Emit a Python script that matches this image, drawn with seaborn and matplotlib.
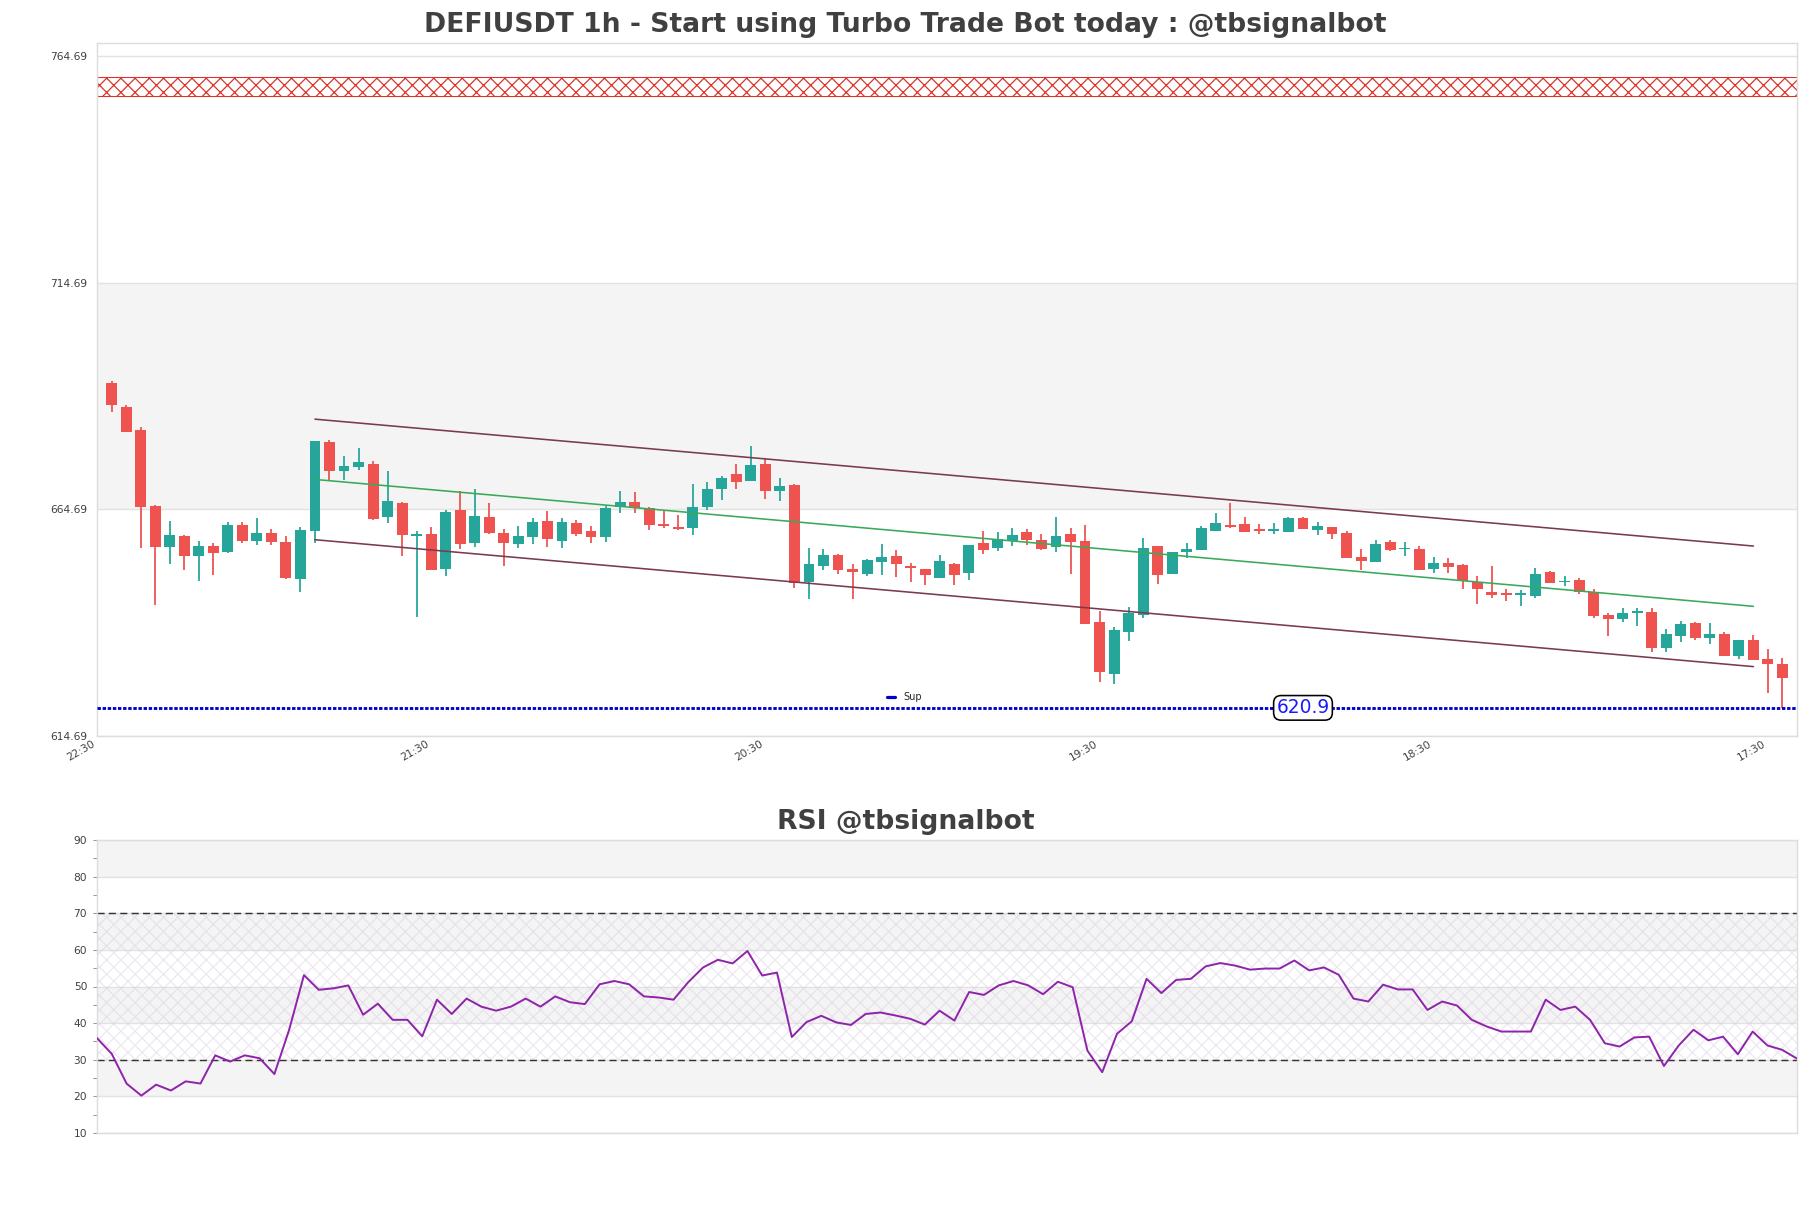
import numpy as np
import pandas as pd
import matplotlib
matplotlib.use("Agg")
import matplotlib.pyplot as plt
import seaborn as sns
from matplotlib.lines import Line2D
from matplotlib.ticker import MultipleLocator

# ---------------- data ----------------
opens = [692.62, 687.32, 682.24, 665.46, 656.49, 658.84, 654.50, 656.63, 655.38, 661.27,
         657.81, 659.50, 657.59, 649.42, 660.02, 679.59, 673.26, 674.15, 674.73, 663.11,
         666.12, 658.77, 659.28, 651.63, 664.58, 657.37, 663.03, 659.50, 657.15, 658.69,
         662.15, 657.81, 661.71, 659.94, 658.69, 665.24, 666.35, 664.95, 661.49, 660.83,
         660.68, 665.24, 669.29, 672.53, 671.06, 674.73, 668.85, 670.10, 648.76, 652.29,
         654.65, 651.56, 650.53, 653.10, 654.43, 652.22, 651.56, 649.57, 652.66, 650.67,
         657.29, 656.26, 657.74, 659.72, 657.96, 656.49, 659.28, 657.74, 639.86, 628.45,
         637.65, 641.40, 656.63, 650.45, 655.38, 655.82, 660.02, 661.27, 661.49, 660.39,
         660.02, 659.80, 662.81, 660.24, 660.83, 659.50, 654.20, 653.17, 657.52, 655.90,
         655.97, 651.56, 652.88, 652.44, 648.69, 646.48, 646.00, 645.85, 645.60, 650.89,
         648.60, 649.13, 646.40, 641.40, 640.59, 641.90, 642.06, 634.19, 636.84, 639.63,
         636.40, 637.21, 632.42, 635.88, 631.69, 630.58]
highs = [693.06, 687.69, 682.98, 665.68, 662.15, 659.00, 657.74, 657.29, 661.86, 661.86,
         662.81, 660.39, 658.91, 660.90, 679.81, 680.03, 676.50, 678.27, 675.32, 673.19,
         666.27, 659.94, 660.75, 664.58, 668.70, 669.22, 666.12, 660.39, 661.05, 662.81,
         664.36, 662.81, 662.37, 661.05, 665.46, 668.77, 668.55, 665.24, 664.36, 663.48,
         670.32, 670.76, 672.16, 674.73, 678.71, 676.06, 671.64, 670.32, 656.19, 655.97,
         654.87, 652.66, 653.76, 657.07, 655.75, 652.88, 651.56, 654.65, 652.88, 656.85,
         659.94, 659.72, 660.61, 660.39, 659.28, 663.03, 660.61, 661.27, 642.21, 638.75,
         643.17, 658.40, 656.63, 655.31, 657.29, 661.00, 663.92, 666.12, 663.03, 661.49,
         661.71, 663.03, 663.03, 661.93, 660.83, 659.94, 655.97, 657.96, 657.96, 657.59,
         656.56, 654.20, 653.98, 652.73, 650.01, 652.22, 647.14, 646.85, 651.70, 651.11,
         649.94, 649.57, 647.14, 641.84, 642.95, 643.02, 642.95, 638.31, 640.08, 639.78,
         639.63, 637.65, 635.88, 636.99, 633.89, 631.91]
lows = [686.29, 681.72, 656.26, 643.68, 652.73, 651.41, 648.98, 650.30, 655.16, 657.37,
        656.93, 656.93, 649.42, 646.55, 657.22, 671.20, 671.28, 673.48, 662.45, 661.78,
        654.50, 640.89, 651.41, 649.94, 655.97, 656.34, 659.36, 652.29, 656.26, 657.15,
        656.49, 656.26, 658.91, 657.37, 657.59, 663.99, 663.92, 660.24, 660.61, 660.24,
        659.13, 664.58, 666.86, 669.22, 671.06, 667.01, 666.64, 647.36, 644.93, 651.41,
        650.53, 644.93, 650.08, 650.23, 649.79, 648.69, 648.10, 649.57, 648.10, 649.20,
        654.94, 655.60, 656.71, 656.93, 655.82, 655.38, 650.53, 639.49, 626.69, 626.24,
        635.66, 640.74, 648.24, 650.45, 654.06, 655.82, 660.02, 660.61, 659.80, 659.36,
        659.36, 659.80, 660.46, 659.13, 658.25, 654.06, 651.41, 653.17, 655.53, 654.35,
        651.33, 650.67, 650.67, 647.14, 643.83, 645.15, 644.56, 643.39, 645.15, 648.46,
        647.88, 646.11, 640.74, 636.84, 639.86, 639.05, 633.31, 633.31, 635.51, 635.96,
        635.07, 632.42, 631.76, 631.54, 624.26, 620.80]
closes = [687.83, 681.87, 665.32, 656.49, 659.06, 654.50, 656.63, 655.16, 661.27, 657.81,
          659.50, 657.59, 649.57, 660.16, 679.81, 673.26, 674.29, 675.18, 662.59, 666.57,
          659.13, 659.28, 651.41, 664.14, 657.15, 663.26, 659.58, 657.37, 658.84, 661.93,
          658.25, 661.93, 659.36, 658.69, 665.02, 666.35, 664.95, 661.27, 661.05, 660.46,
          665.24, 669.22, 671.64, 670.76, 674.51, 668.85, 669.88, 648.54, 652.66, 654.65,
          651.41, 650.97, 653.54, 654.20, 652.66, 651.78, 650.23, 653.32, 650.23, 656.85,
          655.82, 658.18, 659.06, 657.96, 656.04, 658.84, 657.59, 639.49, 628.74, 638.09,
          641.84, 656.19, 650.23, 655.31, 655.97, 660.61, 661.71, 660.83, 659.80, 660.02,
          660.39, 662.81, 660.46, 661.05, 659.36, 654.06, 653.32, 657.07, 655.82, 656.10,
          651.33, 652.95, 652.07, 648.91, 647.14, 645.82, 645.85, 646.00, 650.45, 648.46,
          648.80, 646.48, 641.18, 640.59, 641.77, 642.10, 634.19, 637.21, 639.41, 636.40,
          637.21, 632.42, 635.88, 631.54, 630.66, 627.57]
rsi = [35.9, 31.6, 23.5, 20.2, 23.2, 21.6, 24.1, 23.5, 31.2, 29.5,
       31.2, 30.4, 26.1, 38.2, 53.1, 49.1, 49.5, 50.3, 42.3, 45.3,
       40.9, 40.9, 36.4, 46.4, 42.5, 46.7, 44.5, 43.4, 44.5, 46.7,
       44.5, 47.3, 45.7, 45.2, 50.6, 51.5, 50.6, 47.3, 47.0, 46.4,
       51.2, 55.2, 57.3, 56.3, 59.7, 53.0, 53.8, 36.2, 40.3, 42.0,
       40.2, 39.5, 42.5, 42.9, 42.1, 41.2, 39.6, 43.4, 40.7, 48.5,
       47.7, 50.3, 51.5, 50.3, 47.9, 51.3, 49.8, 32.5, 26.6, 37.1,
       40.5, 52.1, 48.2, 51.8, 52.1, 55.5, 56.4, 55.7, 54.6, 54.9,
       54.9, 57.1, 54.4, 55.2, 53.2, 46.7, 45.9, 50.5, 49.2, 49.2,
       43.6, 45.9, 44.8, 40.9, 39.1, 37.7, 37.7, 37.7, 46.4, 43.6,
       44.5, 40.9, 34.5, 33.6, 36.1, 36.3, 28.3, 33.9, 38.2, 35.3,
       36.3, 31.5, 37.7, 33.9, 32.7, 30.3]
x_labels = ["22:30", "21:30", "20:30", "19:30", "18:30", "17:30"]
price_ticks = [614.69, 664.69, 714.69, 764.69]
rsi_ticks = [10, 20, 30, 40, 50, 60, 70, 80, 90]
rsi_levels = [30, 70]
support_level = 620.9
resistance_zone = [756.0, 760.1]
channel_idx = [14, 113]
channel_mid = [671.3, 643.3]
channel_half_width = 13.3

title_main = "DEFIUSDT 1h - Start using Turbo Trade Bot today : @tbsignalbot"
title_rsi = "RSI @tbsignalbot"

# ---------------- style ----------------
sns.set_theme(style="white")
plt.rcParams['font.family'] = ['DejaVu Sans']
plt.rcParams['hatch.linewidth'] = 0.7

DPI = 128
W, H = 1811, 1208
AX_L, AX_R = 97, 1797
fig = plt.figure(figsize=(W / DPI, H / DPI), dpi=DPI, facecolor='white')
ax = fig.add_axes([AX_L / W, 1 - 736 / H, (AX_R - AX_L) / W, (736 - 43) / H])
ax2 = fig.add_axes([AX_L / W, 1 - 1133 / H, (AX_R - AX_L) / W, (1133 - 840) / H])
title_x = (W / 2 - AX_L) / (AX_R - AX_L)   # titles centred on the figure

GREEN = '#26a69a'
RED = '#ef5350'
TXT = '#404040'
SPINE = '#dddddd'
BAND = '#f4f4f4'

df = pd.DataFrame({'open': opens, 'high': highs, 'low': lows, 'close': closes})
df['idx'] = np.arange(len(df))
df['up'] = df['close'] >= df['open']
cols = np.where(df['up'], GREEN, RED)

# ---------------- main price axes ----------------
ax.set_xlim(-1, len(df))
ax.set_ylim(price_ticks[0], 767.6)
for i in range(1, len(price_ticks) - 1, 2):
    ax.axhspan(price_ticks[i], price_ticks[i + 1], color=BAND, zorder=0, lw=0)
for t in price_ticks:
    ax.axhline(t, color='#e2e2e2', lw=0.8, zorder=0.5)

ax.axhspan(resistance_zone[0], resistance_zone[1], facecolor='none',
           edgecolor='#d9342b', hatch='xxx', lw=0.6, zorder=1)

ax.vlines(df['idx'], df['low'], df['high'], colors=cols, lw=1.0, zorder=2)
body_bottom = np.minimum(df['open'], df['close'])
body_h = np.maximum(np.abs(df['close'] - df['open']), 0.35)
ax.bar(df['idx'], body_h, bottom=body_bottom, width=0.75, color=cols, lw=0, zorder=3)

for off, c in [(channel_half_width, '#7a3a52'), (0, '#3aaa5a'), (-channel_half_width, '#7a3a52')]:
    sns.lineplot(x=channel_idx, y=[m + off for m in channel_mid], ax=ax,
                 color=c, lw=0.9, zorder=4)

ax.axhline(support_level, color='#0000cc', ls=(0, (1.2, 0.6)), lw=1.6, zorder=5)
ax.text(82, support_level, f"{support_level}", color='#1a1aff', fontsize=10.5,
        ha='center', va='center', zorder=6,
        bbox=dict(boxstyle='round,pad=0.15,rounding_size=0.4', fc='white', ec='black', lw=0.9))
ax.legend(handles=[Line2D([0], [0], color='#0000cc', lw=1.8)], labels=['Sup'],
          loc='center', bbox_to_anchor=(0.475, 0.056), frameon=False, fontsize=5.5,
          handlelength=0.8, handletextpad=0.8)

ax.set_yticks(price_ticks)
ax.set_yticklabels([f"{t:.2f}" for t in price_ticks])
ax.set_xticks([-1 + 23 * k for k in range(len(x_labels))])
ax.set_xticklabels(x_labels, rotation=30, ha='right')
ax.tick_params(axis='both', length=0, labelsize=6, colors=TXT)
ax.tick_params(axis='y', pad=5.5)
ax.tick_params(axis='x', pad=1.5)
for s in ax.spines.values():
    s.set_color(SPINE)
    s.set_linewidth(0.8)
ax.set_xlabel('')
ax.set_ylabel('')
ax.set_title(title_main, fontsize=15, fontweight='bold', color=TXT, pad=6, x=title_x)

# ---------------- RSI axes ----------------
x_rsi = np.arange(len(rsi))
ax2.set_xlim(0, len(rsi) - 1)
ax2.set_ylim(rsi_ticks[0], rsi_ticks[-1])
for i in range(1, len(rsi_ticks) - 1, 2):
    ax2.axhspan(rsi_ticks[i], rsi_ticks[i + 1], color=BAND, zorder=0, lw=0)
for t in rsi_ticks:
    ax2.axhline(t, color='#e2e2e2', lw=0.8, zorder=0.5)
ax2.axhspan(rsi_levels[0], rsi_levels[1], facecolor='none', edgecolor='#d6cce0',
            hatch='xxx', lw=0, zorder=0.6, alpha=0.45)
for lv in rsi_levels:
    ax2.axhline(lv, color='#333333', ls=(0, (5, 3)), lw=0.8, zorder=1)
sns.lineplot(x=x_rsi, y=rsi, ax=ax2, color='#8e24aa', lw=1.1, zorder=3)

ax2.set_yticks(rsi_ticks)
ax2.yaxis.set_minor_locator(MultipleLocator(5))
ax2.set_xticks([])
ax2.tick_params(axis='y', which='both', left=True, length=2.5, width=0.6,
                color='#999999', labelsize=6, labelcolor=TXT, pad=3)
for s in ax2.spines.values():
    s.set_color(SPINE)
    s.set_linewidth(0.8)
ax2.set_xlabel('')
ax2.set_ylabel('')
ax2.set_title(title_rsi, fontsize=15, fontweight='bold', color=TXT, pad=6, x=title_x)

fig.savefig('out.png', dpi=DPI, facecolor='white')
